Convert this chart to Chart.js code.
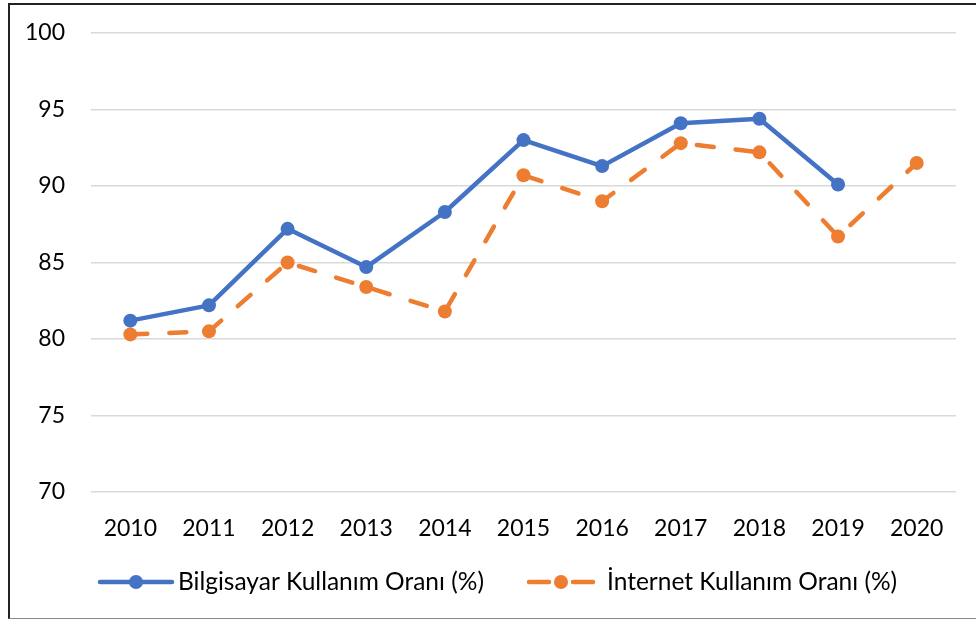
<!DOCTYPE html>
<html>
<head>
<meta charset="utf-8">
<script src="https://cdn.jsdelivr.net/npm/chart.js@4"></script>
<style>
  html, body { margin: 0; padding: 0; background: #fff; }
  #wrap { position: relative; width: 976px; height: 623px; overflow: hidden; }
  #frame { position: absolute; left: 8px; top: 3px; width: 980px; height: 616px;
           border-left: 2px solid #222; border-top: 2px solid #222; border-bottom: 1px solid #888; box-sizing: border-box; pointer-events: none; }
  canvas { position: absolute; left: 0; top: 0; }
</style>
</head>
<body>
<div id="wrap">
  <canvas id="c" width="976" height="623"></canvas>
  <div id="frame"></div>
</div>
<script>
const years = ['2010','2011','2012','2013','2014','2015','2016','2017','2018','2019','2020'];
const bilgisayar = [81.2, 82.2, 87.2, 84.7, 88.3, 93.0, 91.3, 94.1, 94.4, 90.1, null];
const internet = [80.3, 80.5, 85.0, 83.4, 81.8, 90.7, 89.0, 92.8, 92.2, 86.7, 91.5];
const seriesNames = ['Bilgisayar Kullanım Oranı (%)', 'İnternet Kullanım Oranı (%)'];
const yTicks = { min: 70, max: 100, step: 5 };

const BLUE = '#4472C4';
const ORANGE = '#ED7D31';
const FONT = 'Lato';

const legendPlugin = {
  id: 'customLegend',
  afterDraw(chart) {
    const ctx = chart.ctx;
    const y = 582;
    const items = [
      { ds: chart.data.datasets[0], x0: 100, x1: 172, cx: 136, tx: 178 },
      { ds: chart.data.datasets[1], x0: 529, x1: 593, cx: 561, tx: 607 }
    ];
    ctx.save();
    items.forEach(it => {
      ctx.strokeStyle = it.ds.borderColor;
      ctx.lineWidth = 4.5;
      ctx.lineCap = 'round';
      if (it.ds.borderDash && it.ds.borderDash.length) {
        ctx.beginPath(); ctx.moveTo(it.x0, y); ctx.lineTo(it.x0 + 20, y); ctx.stroke();
        ctx.beginPath(); ctx.moveTo(it.x1 - 20, y); ctx.lineTo(it.x1, y); ctx.stroke();
      } else {
        ctx.beginPath(); ctx.moveTo(it.x0, y); ctx.lineTo(it.x1, y); ctx.stroke();
      }
      ctx.fillStyle = it.ds.borderColor;
      ctx.beginPath(); ctx.arc(it.cx, y, 7, 0, Math.PI * 2); ctx.fill();
      ctx.fillStyle = '#000';
      ctx.font = '24.5px ' + FONT;
      ctx.textBaseline = 'middle';
      ctx.textAlign = 'left';
      ctx.fillText(it.ds.label, it.tx, y);
    });
    ctx.restore();
  }
};

new Chart(document.getElementById('c'), {
  type: 'line',
  data: {
    labels: years,
    datasets: [
      { label: seriesNames[0], data: bilgisayar, borderColor: BLUE, backgroundColor: BLUE,
        borderWidth: 4.5, pointRadius: 7, pointHoverRadius: 7, pointBackgroundColor: BLUE, pointBorderWidth: 0,
        tension: 0, order: 1, borderJoinStyle: 'round' },
      { label: seriesNames[1], data: internet, borderColor: ORANGE, backgroundColor: ORANGE,
        borderWidth: 4.5, pointRadius: 7, pointHoverRadius: 7, pointBackgroundColor: ORANGE, pointBorderWidth: 0,
        borderDash: [17, 22], borderCapStyle: 'round', tension: 0, order: 0 }
    ]
  },
  options: {
    responsive: false,
    animation: false,
    devicePixelRatio: 1,
    layout: { padding: { left: 0, right: 20, top: 33, bottom: 0 } },
    plugins: { legend: { display: false }, tooltip: { enabled: false } },
    scales: {
      x: {
        offset: true,
        grid: { display: false, drawTicks: false },
        border: { display: false },
        ticks: { color: '#000', font: { family: FONT, size: 23 }, padding: 23, maxRotation: 0 },
        afterFit(scale) { scale.height = 131; scale.paddingLeft = 0; scale.paddingRight = 0; }
      },
      y: {
        min: yTicks.min, max: yTicks.max,
        grid: { color: '#d9d9d9', lineWidth: 1.5, drawTicks: false },
        border: { display: false },
        ticks: { stepSize: yTicks.step, color: '#000', font: { family: FONT, size: 23 }, padding: 26 },
        afterFit(scale) { scale.width = 91; scale.paddingTop = 0; scale.paddingBottom = 0; }
      }
    }
  },
  plugins: [legendPlugin]
});
</script>
</body>
</html>
